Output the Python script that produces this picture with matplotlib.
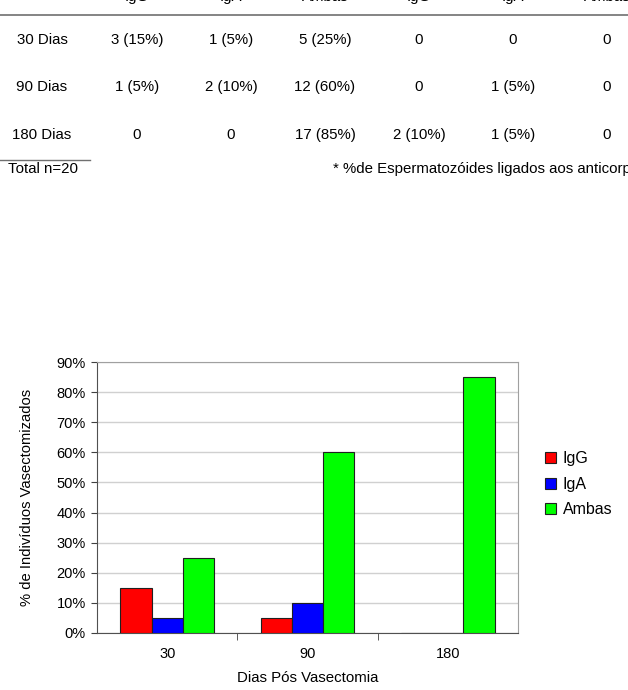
import matplotlib.pyplot as plt
import numpy as np
from matplotlib.lines import Line2D

plt.rcParams['font.family'] = ['Liberation Sans', 'DejaVu Sans']

# tabela de cima
cabecalho = ["IgG", "IgA", "Ambas", "IgG", "IgA", "Ambas"]
linhas = ["30 Dias", "90 Dias", "180 Dias"]
celulas = [
    ["3 (15%)", "1 (5%)", "5 (25%)", "0", "0", "0"],
    ["1 (5%)", "2 (10%)", "12 (60%)", "0", "1 (5%)", "0"],
    ["0", "0", "17 (85%)", "2 (10%)", "1 (5%)", "0"],
]

# grafico
dias = ["30", "90", "180"]
igg = [15, 5, 0]
iga = [5, 10, 0]
ambas = [25, 60, 85]

W, H = 628, 690
fig = plt.figure(figsize=(W / 100, H / 100), dpi=100)

def fx(px):
    return px / W

def fy(py):
    return 1 - py / H

fs = 10.8
col_x = [137, 231, 325, 419, 513, 607]
for i, c in enumerate(cabecalho):
    fig.text(fx(col_x[i]), fy(-3), c, ha='center', va='center', fontsize=fs)
fig.add_artist(Line2D([0, 1], [fy(14.5), fy(14.5)], color='#707070', lw=1.2))

row_y = [40, 87, 135]
for r, nome in enumerate(linhas):
    fig.text(fx(42), fy(row_y[r]), nome, ha='center', va='center', fontsize=fs)
    for i, v in enumerate(celulas[r]):
        fig.text(fx(col_x[i]), fy(row_y[r]), v, ha='center', va='center', fontsize=fs)

fig.add_artist(Line2D([0, fx(90)], [fy(160), fy(160)], color='#707070', lw=1))
fig.text(fx(8), fy(169), "Total n=20", ha='left', va='center', fontsize=fs)
fig.text(fx(333), fy(169), "* %de Espermatozóides ligados aos anticorpos",
         ha='left', va='center', fontsize=fs)

ax = fig.add_axes([fx(97), 1 - 633 / H, (518 - 97) / W, (633 - 362) / H])
x = np.arange(len(dias))
w = 0.222
ax.bar(x - w, igg, w, color='#FF0000', edgecolor='#202020', lw=0.8, label='IgG', zorder=3)
ax.bar(x, iga, w, color='#0000FF', edgecolor='#202020', lw=0.8, label='IgA', zorder=3)
ax.bar(x + w, ambas, w, color='#00FF00', edgecolor='#202020', lw=0.8, label='Ambas', zorder=3)

ax.set_xlim(-0.5, 2.5)
ax.set_ylim(0, 90)
ax.set_yticks(range(0, 91, 10))
ax.set_yticklabels(["%d%%" % v for v in range(0, 91, 10)], fontsize=10.5)
ax.set_xticks(x)
ax.set_xticklabels(dias, fontsize=10.5)
ax.set_xticks([0.5, 1.5], minor=True)
ax.tick_params(axis='x', which='major', length=0, pad=10)
ax.tick_params(axis='x', which='minor', length=5, color='#404040')
ax.tick_params(axis='y', length=4, color='#404040', pad=4)
ax.yaxis.grid(True, color='#d0d0d0', lw=1, zorder=0)
for s in ['top', 'right']:
    ax.spines[s].set_color('#a0a0a0')
for s in ['left', 'bottom']:
    ax.spines[s].set_color('#505050')

ax.set_ylabel("% de Indivíduos Vasectomizados", fontsize=10.6, va='center')
ax.yaxis.set_label_coords((27 - 97) / 421, 0.5)
ax.set_xlabel("Dias Pós Vasectomia", fontsize=10.8, va='center')
ax.xaxis.set_label_coords(0.5, (633 - 678) / 271)

ax.legend(loc='upper left', bbox_to_anchor=((545 - 97) / 421, (633 - 451) / 271),
          frameon=False, fontsize=11.5, handlelength=0.7, handleheight=0.7,
          handletextpad=0.4, labelspacing=0.67, borderaxespad=0, borderpad=0)

fig.savefig("out.png", dpi=100)
